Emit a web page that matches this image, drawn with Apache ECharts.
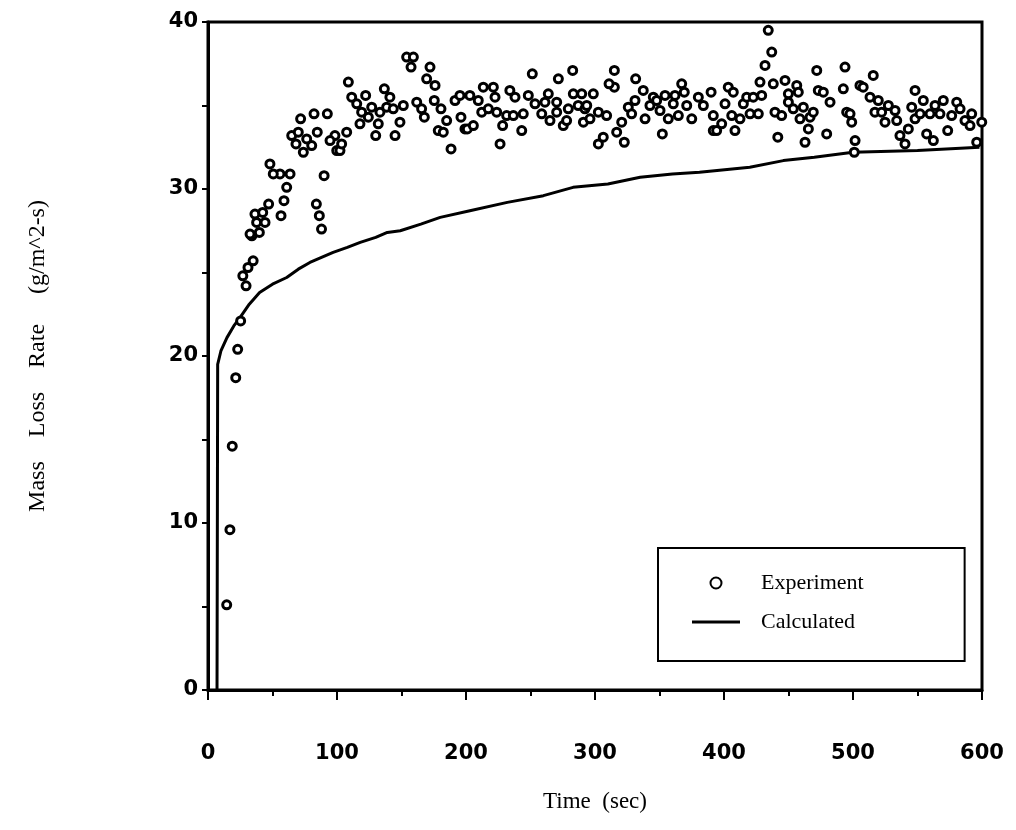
<!DOCTYPE html>
<html>
<head>
<meta charset="utf-8">
<script src="https://cdn.jsdelivr.net/npm/echarts@6/dist/echarts.min.js"></script>
<style>
html,body{margin:0;padding:0;background:#fff;}
#chart{width:1016px;height:830px;}
</style>
</head>
<body>
<div id="chart"></div>
<script>
// Tick labels
var xTicks = [0, 100, 200, 300, 400, 500, 600];
var yTicks = [0, 10, 20, 30, 40];

// Experiment: [time (sec), mass loss rate (g/m^2-s)]
var experiment = [
  [14.5,5.1],[17,9.6],[18.8,14.6],[21.5,18.7],[23,20.4],[25.3,22.1],[27,24.8],[29.5,24.2],
  [31,25.3],[35,25.7],[34,27.2],[32.6,27.3],[39.8,27.4],[37.7,28.0],[44.2,28.0],[36.4,28.5],
  [42.4,28.6],[47,29.1],[56.6,28.4],[58.9,29.3],[61,30.1],[63.6,30.9],[55.8,30.9],[48,31.5],
  [50.6,30.9],[84,29.1],[86.3,28.4],[88,27.6],[90,30.8],[64.9,33.2],[70,33.4],[68.2,32.7],
  [73.9,32.2],[80.4,32.6],[84.7,33.4],[71.8,34.2],[82.2,34.5],[92.5,34.5],[98.4,33.2],[94.6,32.9],
  [99.8,32.3],[76.5,33.0],
  [102.3,32.3],[103.6,32.7],[107.5,33.4],[108.8,36.4],[111.4,35.5],[115.3,35.1],[117.8,33.9],
  [119.1,34.6],[122.2,35.6],[124.3,34.3],[126.9,34.9],[130,33.2],[132,33.9],[133.3,34.6],
  [136.7,36.0],[138.5,34.9],[141,35.5],[143.6,34.8],[145,33.2],[148.8,34.0],[151.4,35.0],
  [154,37.9],[159.2,37.9],[157.4,37.3],[161.8,35.2],[165.6,34.8],[167.7,34.3],[172.1,37.3],
  [169.5,36.6],[176,36.2],[175.4,35.3],[180.6,34.8],[185,34.1],[178.5,33.5],[182.4,33.4],
  [188.4,32.4],[191.5,35.3],[195.3,35.6],[196.1,34.3],[199.2,33.6],
  [201,33.6],[205.7,33.8],[203,35.6],[209.5,35.3],[212.2,34.6],[213.4,36.1],[217.3,34.8],
  [221.2,36.1],[222.5,35.5],[223.8,34.6],[226.4,32.7],[228.4,33.8],[231.5,34.4],[234,35.9],
  [238,35.5],[236.7,34.4],[243.2,33.5],[244.4,34.5],[248.3,35.6],[251.4,36.9],[253.5,35.1],
  [258.7,34.5],[261.2,35.2],[263.8,35.7],[265.1,34.1],[270.3,35.2],[270.3,34.6],[271.6,36.6],
  [275.4,33.8],[278,34.1],[279.3,34.8],[282.7,37.1],[283.2,35.7],[287,35.0],[289.7,35.7],
  [291,34.0],[292.2,34.8],
  [298.7,35.7],[293.6,35.0],[296.1,34.2],[302.6,32.7],[306.4,33.1],[302.6,34.6],[309,34.4],
  [315,37.1],[315,36.1],[310.9,36.3],[316.8,33.4],[320.7,34.0],[322.7,32.8],[325.8,34.9],
  [328.4,34.5],[331.5,36.6],[331,35.3],[337.4,35.9],[338.8,34.2],[342.6,35.0],[345.2,35.5],
  [347.8,35.3],[350.4,34.7],[352.2,33.3],[354.3,35.6],[356.8,34.2],[360.7,35.1],[362,35.6],
  [364.6,34.4],[367.2,36.3],[369.2,35.8],[371.1,35.0],[375,34.2],[380.1,35.5],[384,35.0],
  [390,35.8],[391.7,34.4],[391.7,33.5],
  [394.3,33.5],[398.2,33.9],[400.8,35.1],[403.3,36.1],[407.2,35.8],[406,34.4],[408.5,33.5],
  [412.4,34.2],[415,35.1],[417.6,35.5],[420.2,34.5],[422.7,35.5],[426.6,34.5],[429.2,35.6],
  [427.9,36.4],[431.8,37.4],[437,38.2],[434.3,39.5],[438.2,36.3],[439.5,34.6],[441.7,33.1],
  [444.7,34.4],[447.3,36.5],[449.9,35.7],[449.9,35.2],[453.7,34.8],[456.4,36.2],[457.6,35.8],
  [458.9,34.2],[461.5,34.9],[462.8,32.8],[465.4,33.6],[466.7,34.3],[469.2,34.6],[471.9,37.1],
  [473.1,35.9],[477,35.8],[479.6,33.3],[482.2,35.2],[492.5,36.0],[493.8,37.3],[495.1,34.6],
  [497.7,34.5],[499,34.0],[501.6,32.9],[501,32.2],[505.4,36.2],[507.9,36.1],[515.7,36.8],
  [513.2,35.5],[519.6,35.3],[517,34.6],[522.2,34.6],[524.8,34.0],[527.4,35.0],[532.6,34.7],
  [533.9,34.1],[536.4,33.2],[540.3,32.7],[542.9,33.6],[545.5,34.9],[548.1,35.9],[548.1,34.2],
  [554.5,35.3],[552,34.5],[557.1,33.3],[562.3,32.9],[559.7,34.5],[563.6,35.0],[567.4,34.5],
  [570,35.3],[573.4,33.5],[576.5,34.4],[580.4,35.2],[583,34.8],[586.8,34.1],[592,34.5],
  [590.7,33.8],[595.9,32.8],[599.8,34.0],[601,33.1]
];

// Calculated: [time (sec), mass loss rate (g/m^2-s)]
var calculated = [
  [7,0],[7.5,19.5],[10,20.3],[14.7,21.1],[20,21.8],[24.8,22.3],[32,23.1],[40,23.8],[50,24.3],
  [61,24.7],[70,25.2],[79,25.6],[88,25.9],[97,26.2],[108,26.5],[118,26.8],[130,27.1],[139,27.4],
  [149,27.5],[165,27.9],[180,28.3],[203,28.7],[232,29.2],[260,29.6],[283,30.1],[310,30.3],
  [335,30.7],[360,30.9],[381,31.0],[420,31.3],[446,31.7],[470,31.9],[500,32.2],[550,32.3],[598,32.5]
];

var chart = echarts.init(document.getElementById('chart'), null, {renderer: 'canvas'});
var option = {
  animation: false,
  backgroundColor: '#ffffff',
  grid: {
    left: 208, top: 22, right: 34, bottom: 140,
    show: true, borderColor: '#000', borderWidth: 3, backgroundColor: 'transparent'
  },
  legend: {
    orient: 'vertical',
    left: 658, top: 548,
    padding: [24, 101, 28, 34],
    itemWidth: 48, itemHeight: 11,
    itemGap: 17,
    borderColor: '#000', borderWidth: 2,
    selectedMode: false,
    textStyle: {fontFamily: 'Liberation Serif', fontSize: 22, color: '#000', padding: [0, 0, 0, 16]},
    data: [
      {name: 'Experiment'},
      {name: 'Calculated', icon: 'path://M0,0 L48,0 L48,3 L0,3 Z', itemStyle: {color: '#000'}}
    ]
  },
  xAxis: {
    type: 'value', min: xTicks[0], max: xTicks[xTicks.length - 1], interval: 100,
    name: 'Time  (sec)', nameLocation: 'middle', nameGap: 100,
    nameTextStyle: {fontFamily: 'Liberation Serif', fontSize: 23, color: '#000'},
    axisLine: {show: true, onZero: false, lineStyle: {color: '#000', width: 3}},
    axisTick: {show: true, inside: false, length: 10, lineStyle: {color: '#000', width: 2}},
    minorTick: {show: true, splitNumber: 2, length: 6, lineStyle: {color: '#000', width: 2}},
    splitLine: {show: false},
    axisLabel: {margin: 53, fontFamily: 'DejaVu Sans', fontWeight: 'bold', fontSize: 21, color: '#000',
      formatter: function (v) { return xTicks.indexOf(v) >= 0 ? String(v) : ''; }}
  },
  yAxis: {
    type: 'value', min: yTicks[0], max: yTicks[yTicks.length - 1], interval: 10,
    name: 'Mass    Loss    Rate     (g/m^2-s)', nameLocation: 'middle', nameGap: 158, nameRotate: 90,
    nameTextStyle: {fontFamily: 'Liberation Serif', fontSize: 24, color: '#000'},
    axisLine: {show: true, onZero: false, lineStyle: {color: '#000', width: 3}},
    axisTick: {show: true, inside: false, length: 6, lineStyle: {color: '#000', width: 2}},
    minorTick: {show: true, splitNumber: 2, length: 6, lineStyle: {color: '#000', width: 2}},
    splitLine: {show: false},
    axisLabel: {margin: 10, fontFamily: 'DejaVu Sans', fontWeight: 'bold', fontSize: 21, color: '#000',
      formatter: function (v) { return yTicks.indexOf(v) >= 0 ? String(v) : ''; }}
  },
  series: [
    {
      name: 'Experiment', type: 'scatter', data: experiment,
      symbol: 'circle', symbolSize: 8,
      itemStyle: {color: '#ffffff', borderColor: '#000', borderWidth: 3, opacity: 1},
      z: 3
    },
    {
      name: 'Calculated', type: 'line', data: calculated,
      showSymbol: false, symbol: 'none', smooth: false,
      lineStyle: {color: '#000', width: 3},
      itemStyle: {color: '#000'},
      z: 2
    }
  ]
};
chart.setOption(option);
</script>
</body>
</html>
